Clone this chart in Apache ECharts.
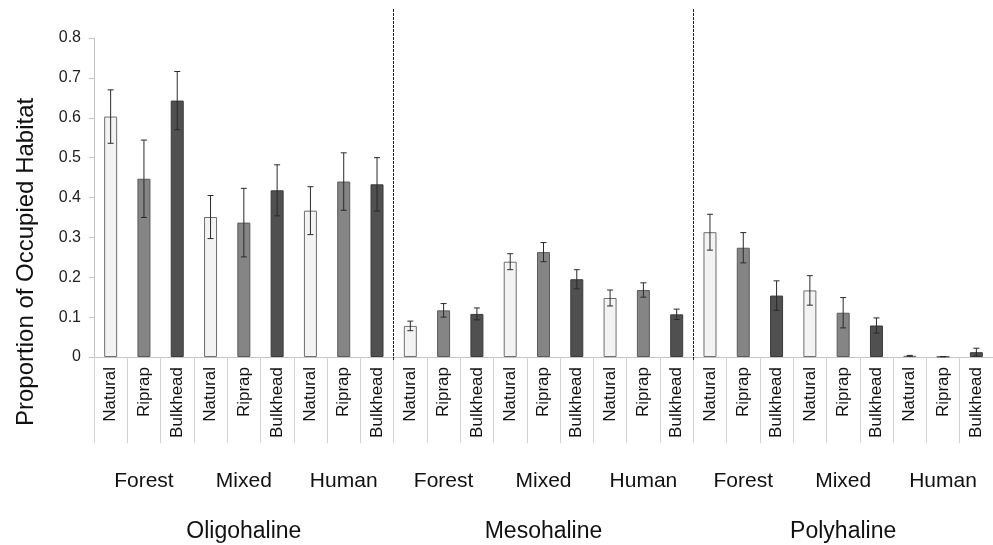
<!DOCTYPE html>
<html>
<head>
<meta charset="utf-8">
<script src="https://cdn.jsdelivr.net/npm/echarts@6/dist/echarts.min.js"></script>
<style>
  html, body { margin: 0; padding: 0; background: #fff; }
  #chart { width: 993px; height: 545px; }
</style>
</head>
<body>
<div id="chart"></div>
<script>
// Shoreline types within each land-use class
const shorelineTypes = ['Natural', 'Riprap', 'Bulkhead'];
const landUse = ['Forest', 'Mixed', 'Human'];
const salinity = ['Oligohaline', 'Mesohaline', 'Polyhaline'];

const categories = [
  'Natural', 'Riprap', 'Bulkhead', 'Natural', 'Riprap', 'Bulkhead', 'Natural', 'Riprap', 'Bulkhead',
  'Natural', 'Riprap', 'Bulkhead', 'Natural', 'Riprap', 'Bulkhead', 'Natural', 'Riprap', 'Bulkhead',
  'Natural', 'Riprap', 'Bulkhead', 'Natural', 'Riprap', 'Bulkhead', 'Natural', 'Riprap', 'Bulkhead'
];
const landUseLabels = [
  'Forest', 'Mixed', 'Human',
  'Forest', 'Mixed', 'Human',
  'Forest', 'Mixed', 'Human'
];

// Mean proportion of occupied habitat
const proportion = [
  0.603, 0.447, 0.643, 0.351, 0.337, 0.418, 0.367, 0.440, 0.433,
  0.078, 0.117, 0.108, 0.239, 0.263, 0.195, 0.148, 0.168, 0.107,
  0.313, 0.274, 0.154, 0.167, 0.111, 0.079, 0.003, 0.001, 0.012
];
// Standard error (symmetric)
const stdError = [
  0.067, 0.097, 0.073, 0.054, 0.086, 0.064, 0.060, 0.072, 0.067,
  0.012, 0.017, 0.015, 0.020, 0.024, 0.024, 0.020, 0.018, 0.013,
  0.045, 0.038, 0.037, 0.037, 0.038, 0.019, 0.001, 0.000, 0.010
];
const yTicks = { min: 0, max: 0.8, interval: 0.1 };
// Dividers between salinity zones (category boundaries)
const zoneBreaks = [9, 18];

const fills = { Natural: '#f3f3f3', Riprap: '#858585', Bulkhead: '#505050' };
const borders = { Natural: '#6e6e6e', Riprap: '#5a5a5a', Bulkhead: '#3a3a3a' };

const barData = proportion.map((v, i) => ({
  value: v,
  itemStyle: {
    color: fills[categories[i]],
    borderColor: borders[categories[i]],
    borderWidth: 1
  }
}));
const errData = proportion.map((v, i) => [i, v - stdError[i], v + stdError[i]]);

const chart = echarts.init(document.getElementById('chart'), null, { renderer: 'canvas' });
const font = 'Liberation Sans, Arial, sans-serif';

chart.setOption({
  animation: false,
  backgroundColor: '#ffffff',
  textStyle: { fontFamily: font },
  grid: [
    { left: 94, right: 0, top: 38, bottom: 188 },
    { left: 94, right: 0, top: 8, bottom: 185 }
  ],
  xAxis: [
    {
      type: 'category', gridIndex: 0, data: categories,
      axisLine: { lineStyle: { color: '#c4c4c4', width: 1 } },
      axisTick: { show: true, interval: 0, length: 86, lineStyle: { color: '#d2d2d2', width: 1 } },
      axisLabel: { interval: 0, rotate: 90, fontSize: 17, color: '#111', margin: 10, fontFamily: font }
    },
    {
      type: 'category', gridIndex: 0, data: landUseLabels, position: 'bottom', offset: 106,
      axisLine: { show: false }, axisTick: { show: false },
      axisLabel: { interval: 0, fontSize: 21, color: '#111', margin: 8, fontFamily: font }
    },
    {
      type: 'category', gridIndex: 0, data: salinity, position: 'bottom', offset: 155,
      axisLine: { show: false }, axisTick: { show: false },
      axisLabel: { interval: 0, fontSize: 23, color: '#111', margin: 8, fontFamily: font }
    },
    { type: 'value', gridIndex: 1, min: 0, max: 27, show: false }
  ],
  yAxis: [
    {
      type: 'value', gridIndex: 0, min: yTicks.min, max: yTicks.max, interval: yTicks.interval,
      splitLine: { show: false },
      axisLine: { show: true, lineStyle: { color: '#c4c4c4', width: 1 } },
      axisTick: { show: true, length: 5, lineStyle: { color: '#c4c4c4' } },
      axisLabel: { fontSize: 16, color: '#222', margin: 13, fontFamily: font }
    },
    { type: 'value', gridIndex: 1, min: 0, max: 1, show: false }
  ],
  graphic: [
    {
      type: 'text',
      x: 14, y: 426,
      rotation: Math.PI / 2,
      style: {
        text: 'Proportion of Occupied Habitat',
        font: '24px ' + font,
        fill: '#111'
      }
    }
  ],
  series: [
    {
      type: 'bar', xAxisIndex: 0, yAxisIndex: 0,
      barWidth: 13, data: barData, z: 2
    },
    {
      type: 'custom', xAxisIndex: 0, yAxisIndex: 0, z: 3,
      data: errData,
      renderItem: function (params, api) {
        const x = api.value(0);
        const lo = api.coord([x, Math.max(0, api.value(1))]);
        const hi = api.coord([x, api.value(2)]);
        const cap = 3;
        const style = { stroke: '#2a2a2a', lineWidth: 1 };
        return {
          type: 'group',
          children: [
            { type: 'line', shape: { x1: hi[0], y1: hi[1], x2: lo[0], y2: lo[1] }, style },
            { type: 'line', shape: { x1: hi[0] - cap, y1: hi[1], x2: hi[0] + cap, y2: hi[1] }, style },
            { type: 'line', shape: { x1: lo[0] - cap, y1: lo[1], x2: lo[0] + cap, y2: lo[1] }, style }
          ]
        };
      }
    },
    {
      type: 'scatter', xAxisIndex: 3, yAxisIndex: 1, data: [],
      markLine: {
        silent: true, symbol: ['none', 'none'],
        label: { show: false },
        lineStyle: { type: [3, 1], color: '#222', width: 1 },
        data: zoneBreaks.map(v => ({ xAxis: v }))
      }
    }
  ]
});
</script>
</body>
</html>
